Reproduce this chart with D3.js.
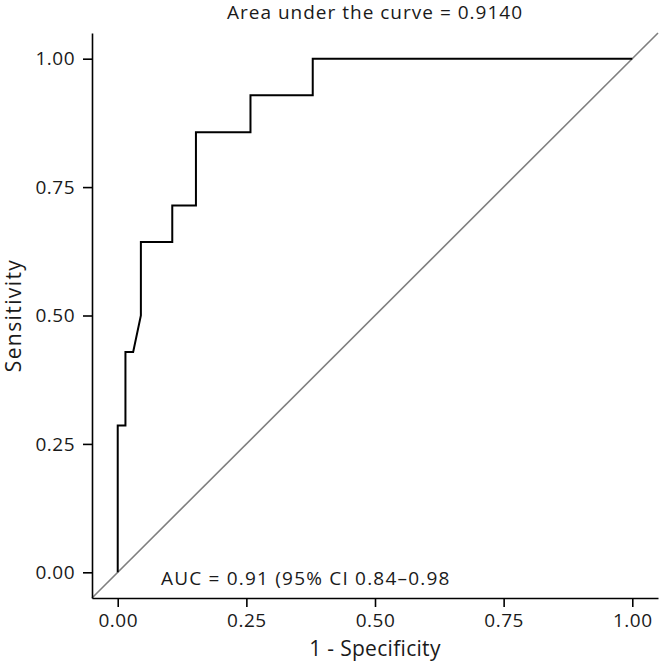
<!DOCTYPE html>
<html>
<head>
<meta charset="utf-8">
<script src="https://cdn.jsdelivr.net/npm/d3@7"></script>
<style>
  body { margin: 0; background: #fff; }
  text { font-family: "Open Sans", "Noto Sans", sans-serif; }
</style>
</head>
<body>
<div class="roc"></div>
<script>
// ROC curve points (1 - specificity, sensitivity)
var fpr = [0, 0, 0.015, 0.015, 0.030, 0.045, 0.045, 0.106, 0.106, 0.152, 0.152, 0.258, 0.258, 0.379, 0.379, 1.0];
var tpr = [0, 0.286, 0.286, 0.429, 0.429, 0.5, 0.643, 0.643, 0.714, 0.714, 0.857, 0.857, 0.929, 0.929, 1.0, 1.0];
var tickValues = [0, 0.25, 0.5, 0.75, 1];
var titleText = "Area under the curve = 0.9140";
var aucText = "AUC = 0.91 (95% CI 0.84\u20130.98";

var svgWidth = 662;
var svgHeight = 664;

// panel edges
var panel = { left: 92, right: 658, top: 33, bottom: 598 };

var svg = d3.select(".roc")
  .append("svg")
  .attr("width", svgWidth)
  .attr("height", svgHeight);

// ggplot style: 5% expansion on both sides
var xScale = d3.scaleLinear().domain([-0.05, 1.05]).range([panel.left, panel.right]);
var yScale = d3.scaleLinear().domain([-0.05, 1.05]).range([panel.bottom, panel.top]);

var data = fpr.map(function(d, i) { return { x: d, y: tpr[i] }; });

// reference diagonal across the whole panel
svg.append("line")
  .attr("x1", xScale(-0.05))
  .attr("y1", yScale(-0.05))
  .attr("x2", xScale(1.05))
  .attr("y2", yScale(1.05))
  .attr("stroke", "#7f7f7f")
  .attr("stroke-width", 1.6);

var line = d3.line()
  .x(function(d) { return xScale(d.x); })
  .y(function(d) { return yScale(d.y); });

svg.append("path")
  .datum(data)
  .attr("d", line)
  .attr("fill", "none")
  .attr("stroke", "#000")
  .attr("stroke-width", 2);

// axes
var bottomAxis = d3.axisBottom(xScale).tickValues(tickValues).tickFormat(d3.format(".2f")).tickSize(9).tickSizeOuter(0).tickPadding(7);
var leftAxis = d3.axisLeft(yScale).tickValues(tickValues).tickFormat(d3.format(".2f")).tickSize(9).tickSizeOuter(0).tickPadding(8);

var gx = svg.append("g")
  .attr("transform", `translate(0, ${panel.bottom})`)
  .call(bottomAxis);
var gy = svg.append("g")
  .attr("transform", `translate(${panel.left}, 0)`)
  .call(leftAxis);

[gx, gy].forEach(function(g) {
  g.select(".domain").attr("stroke", "#000").attr("stroke-width", 1.6);
  g.selectAll(".tick line").attr("stroke", "#000").attr("stroke-width", 1.6);
  g.selectAll(".tick text")
    .attr("fill", "#1a1a1a")
    .style("font-size", "19px")
    .style("letter-spacing", "0.5px")
    .style("font-family", "'Open Sans', 'Noto Sans', sans-serif");
});

// titles
svg.append("text")
  .attr("x", (panel.left + panel.right) / 2)
  .attr("y", 19)
  .attr("text-anchor", "middle")
  .style("font-size", "19px")
  .style("letter-spacing", "1px")
  .attr("fill", "#1a1a1a")
  .text(titleText);

svg.append("text")
  .attr("x", (panel.left + panel.right) / 2)
  .attr("y", 656)
  .attr("text-anchor", "middle")
  .style("font-size", "21px")
  .style("letter-spacing", "0.3px")
  .attr("fill", "#1a1a1a")
  .text("1 - Specificity");

svg.append("text")
  .attr("transform", `translate(21, ${(panel.top + panel.bottom) / 2}) rotate(-90)`)
  .attr("text-anchor", "middle")
  .style("font-size", "21px")
  .style("letter-spacing", "1.4px")
  .attr("fill", "#1a1a1a")
  .text("Sensitivity");

svg.append("text")
  .attr("x", 161)
  .attr("y", 585)
  .style("font-size", "19px")
  .style("letter-spacing", "1.2px")
  .attr("fill", "#1a1a1a")
  .text(aucText);
</script>
</body>
</html>
